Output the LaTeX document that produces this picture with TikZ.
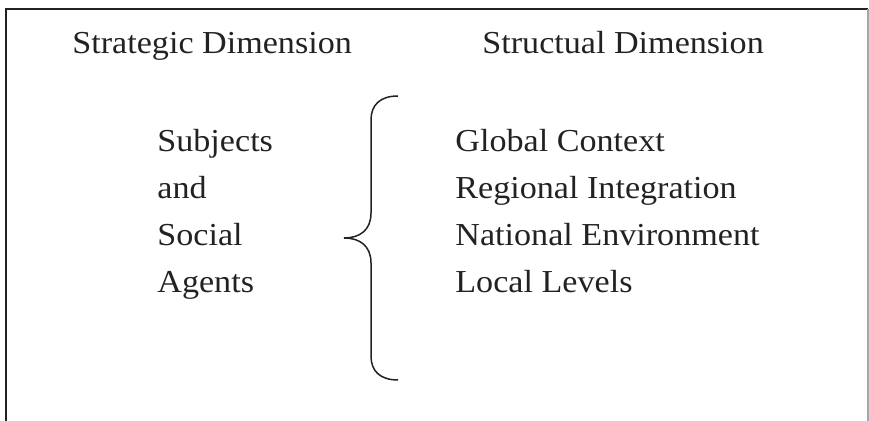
\documentclass[tikz,border=0pt]{standalone}
\usepackage{fontspec}
\setmainfont[FakeStretch=1.066]{Liberation Serif}
\definecolor{ink}{HTML}{222222}
\begin{document}
\begin{tikzpicture}[x=0.5pt,y=-0.5pt,
  lbl/.style={anchor=base west,inner sep=0pt,text=ink,font=\fontsize{16}{19}\selectfont},
  frame/.style={draw=ink,line width=1.25pt},
  brace/.style={draw=ink,line width=0.75pt}]
\useasboundingbox (0,0) rectangle (869,421);
\draw[frame] (6,421) -- (6,9) -- (868,9);
\draw[draw=gray!70,line width=0.6pt] (868,9) -- (868,421);
\node[lbl] (strat) at (72,54) {Strategic Dimension};
\node[lbl] (struc) at (482,54) {Structual Dimension};
\node[lbl] (subj) at (157,152) {Subjects};
\node[lbl] (and) at (157,199) {and};
\node[lbl] (soc) at (157,246) {Social};
\node[lbl] (ag) at (157,293) {Agents};
\node[lbl] (glob) at (455,152) {Global Context};
\node[lbl] (reg) at (455,199) {Regional Integration};
\node[lbl] (nat) at (455,246) {National Environment};
\node[lbl] (loc) at (455,293) {Local Levels};
\draw[brace] (398,96) .. controls (380,96) and (371,105) .. (371,120) -- (371,213)
  .. controls (371,230) and (360,238) .. (344,238)
  .. controls (360,238) and (371,246) .. (371,263) -- (371,356)
  .. controls (371,371) and (380,380) .. (398,380);
\end{tikzpicture}
\end{document}
